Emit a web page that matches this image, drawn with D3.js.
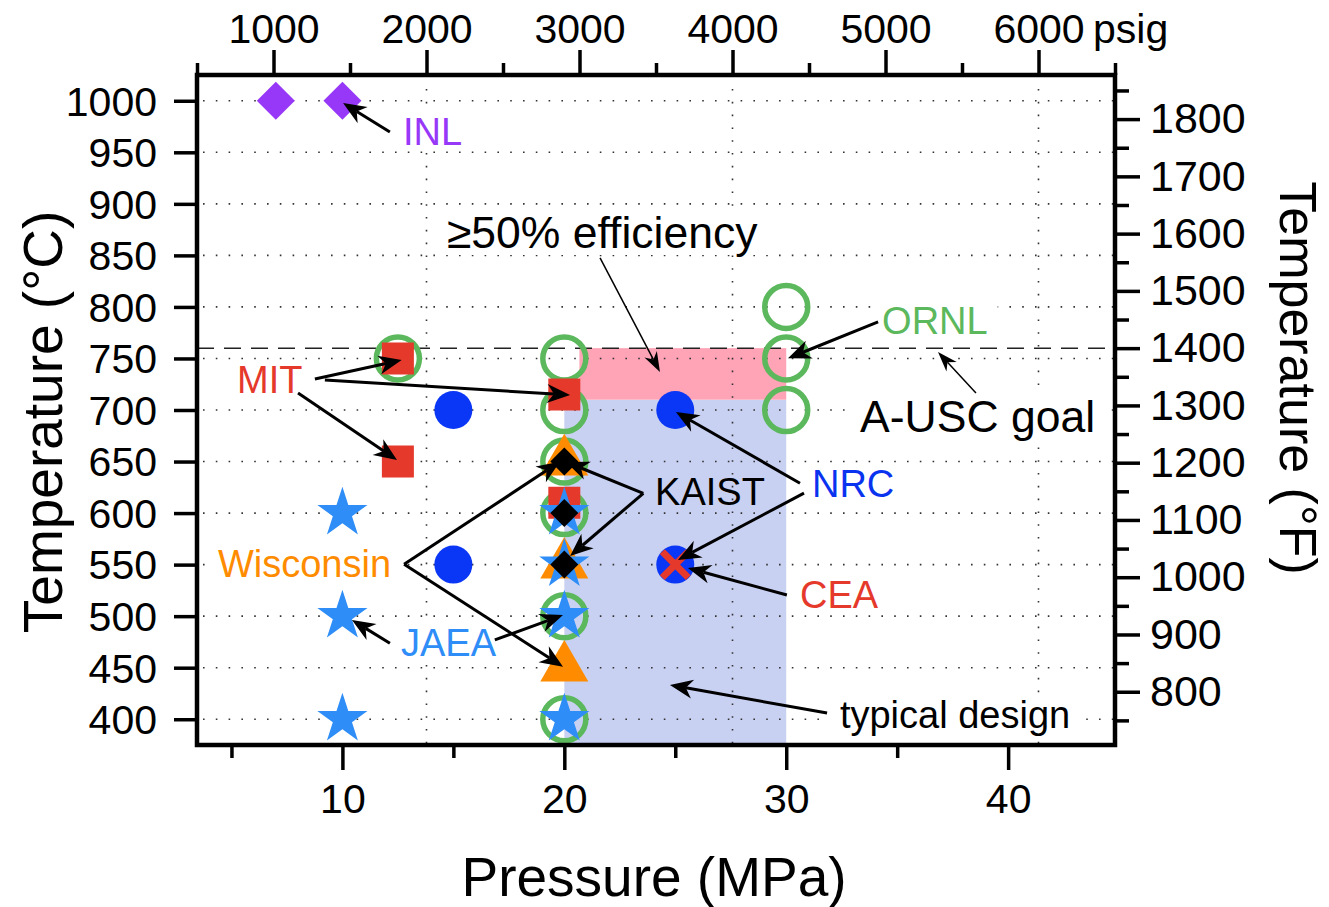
<!DOCTYPE html>
<html><head><meta charset="utf-8">
<script src="https://cdn.jsdelivr.net/npm/d3@7"></script>
<style>
body{margin:0;background:#fff}
text{font-family:"Liberation Sans",Arial,Helvetica,sans-serif}
</style>
</head><body>
<svg id="c" width="1329" height="907"></svg>
<script>
// ---------------- data ----------------
const inlP = [7, 10],                 inlT = [1000, 1000];
const mitP = [12.5, 12.5, 20, 20],    mitT = [750, 650, 715, 610];
const ornlP = [12.5, 20, 20, 20, 20, 20, 20, 30, 30, 30];
const ornlT = [750, 750, 700, 650, 600, 500, 400, 800, 750, 700];
const nrcP = [15, 15, 25, 25],        nrcT = [700, 550, 700, 550];
const ceaP = [25],                    ceaT = [550];
const wiscP = [20, 20, 20],           wiscT = [650, 550, 450];
const kaistP = [20, 20, 20],          kaistT = [650, 600, 550];
const jaeaP = [10, 10, 10, 20, 20, 20, 20];
const jaeaT = [600, 500, 400, 600, 550, 500, 400];

const effP = [20.68, 30], effT = [710, 760];      // >=50% efficiency band
const typP = [20, 30],    typT = [375, 710];      // typical design band
const goalT = 760;                                 // A-USC goal

const xTicks = [10, 20, 30, 40], xMinor = [5, 15, 25, 35];
const yTicks = [400, 450, 500, 550, 600, 650, 700, 750, 800, 850, 900, 950, 1000];
const psigTicks = [1000, 2000, 3000, 4000, 5000, 6000];
const psigMinor = [500, 1500, 2500, 3500, 4500, 5500, 6500];
const psigGrid = [2000, 4000, 6000];
const fTicks = [800, 900, 1000, 1100, 1200, 1300, 1400, 1500, 1600, 1700, 1800];
const fMinor = [750, 850, 950, 1050, 1150, 1250, 1350, 1450, 1550, 1650, 1750, 1850];

const labelText = ["INL", "≥50% efficiency", "ORNL", "A-USC goal", "MIT", "Wisconsin", "JAEA", "KAIST", "NRC", "CEA", "typical design"];
const labelP = [12.73, 14.71, 34.32, 33.33, 5.25, 4.39, 12.64, 24.09, 31.16, 30.62, 32.42];
const labelT = [957.1, 857.2, 773.7, 678.7, 716.5, 538, 461.3, 607.8, 615.6, 507.9, 391.5];
const labelColor = ["#9737F7", "#000", "#5CB85C", "#000", "#E5392B", "#FF8C00", "#2E8DF7", "#000", "#0A33F0", "#E5392B", "#000"];
const labelSize = [38, 44.5, 38, 44.5, 38, 38, 38, 38, 38, 38, 38];
const labelBg = [true, true, true, true, true, true, true, false, true, true, true];

// arrows: tail (P,T) -> tip (P,T), thin flag
const arrowP1 = [12.14, 21.61, 34.14, 38.55, 8.76, 9.21, 8.0, 12.78, 12.78, 12.14, 16.87, 23.56, 23.56, 30.62, 30.8, 30.03, 31.84];
const arrowT1 = [969.7, 847.5, 785.4, 716.5, 730.1, 729.1, 716.5, 550.3, 550.3, 473.7, 476.9, 619.2, 619.2, 629, 619.3, 520.5, 406];
const arrowP2 = [10.03, 24.31, 30.08, 36.84, 12.67, 20.26, 12.46, 19.8, 19.94, 10.43, 19.94, 20.08, 20.26, 25.03, 25.12, 25.57, 24.76];
const arrowT2 = [997.8, 736.9, 750.2, 756.3, 748.5, 714.6, 651.5, 649.8, 451, 496.3, 501.1, 649.6, 558.4, 698, 554.5, 546.7, 433.2];
const arrowThin = [false, true, false, true, false, false, false, false, false, false, false, false, false, false, false, false, false];

// ---------------- scales ----------------
const PSI = 0.00689476;
const x = d3.scaleLinear().domain([500 * PSI, 6500 * PSI]).range([197, 1115]);
const xPsig = d3.scaleLinear().domain([500, 6500]).range([197, 1115]);
const y = d3.scaleLinear().domain([375, 1025]).range([745, 75]);
const yF = d3.scaleLinear().domain([375 * 1.8 + 32, 1025 * 1.8 + 32]).range([745, 75]);

const svg = d3.select("#c");
const L = 197, R = 1115, T = 75, B = 745;

// ---------------- shaded regions ----------------
svg.append("rect").attr("x", x(typP[0])).attr("width", x(typP[1]) - x(typP[0]))
  .attr("y", y(typT[1])).attr("height", y(typT[0]) - y(typT[1])).attr("fill", "#C9D1F2");
svg.append("rect").attr("x", x(effP[0])).attr("width", x(effP[1]) - x(effP[0]))
  .attr("y", y(effT[1])).attr("height", y(effT[0]) - y(effT[1])).attr("fill", "#FFA3B6");

// ---------------- grid ----------------
const grid = svg.append("g").attr("stroke", "#333").attr("stroke-width", 1.6)
  .attr("stroke-dasharray", "1.6,11.2").attr("stroke-linecap", "butt");
yTicks.forEach(t => grid.append("line").attr("x1", L + 6).attr("x2", R).attr("y1", y(t)).attr("y2", y(t)));
psigGrid.forEach(p => grid.append("line").attr("x1", xPsig(p)).attr("x2", xPsig(p)).attr("y1", T + 14).attr("y2", B));

// dashed goal line
svg.append("line").attr("x1", L).attr("x2", R).attr("y1", y(goalT)).attr("y2", y(goalT))
  .attr("stroke", "#222").attr("stroke-width", 1.5).attr("stroke-dasharray", "17,10");

// ---------------- label backgrounds & labels ----------------
const labG = svg.append("g");
labelText.forEach((s, i) => {
  const g = labG.append("g");
  const t = g.append("text").attr("x", x(labelP[i])).attr("y", y(labelT[i]))
    .attr("font-size", labelSize[i]).attr("fill", labelColor[i]).text(s);
  if (labelBg[i]) {
    const b = t.node().getBBox();
    g.insert("rect", "text").attr("x", b.x - 10).attr("y", b.y + 2)
      .attr("width", b.width + 20).attr("height", b.height - 4).attr("fill", "#fff");
  }
});

// ---------------- markers ----------------
const sym = (type, size) => d3.symbol().type(type).size(size)();
const mk = svg.append("g");
function pts(P, Tv) { return P.map((p, i) => [x(p), y(Tv[i])]); }

// ORNL open circles
pts(ornlP, ornlT).forEach(([cx, cy]) => mk.append("circle").attr("cx", cx).attr("cy", cy).attr("r", 21.5)
  .attr("fill", "none").attr("stroke", "#5CB85C").attr("stroke-width", 5.5));
// MIT squares
pts(mitP, mitT).forEach(([cx, cy]) => mk.append("path").attr("d", sym(d3.symbolSquare, 32 * 32))
  .attr("transform", `translate(${cx},${cy})`).attr("fill", "#E5392B"));
// NRC circles
pts(nrcP, nrcT).forEach(([cx, cy]) => mk.append("circle").attr("cx", cx).attr("cy", cy).attr("r", 19).attr("fill", "#0A36F5"));
// CEA crosses
pts(ceaP, ceaT).forEach(([cx, cy]) => {
  const h = 13;
  mk.append("path").attr("d", `M${cx - h},${cy - h}L${cx + h},${cy + h}M${cx - h},${cy + h}L${cx + h},${cy - h}`)
    .attr("stroke", "#E5392B").attr("stroke-width", 7);
});
// Wisconsin triangles
pts(wiscP, wiscT).forEach(([cx, cy]) => mk.append("path").attr("d", sym(d3.symbolTriangle, 998))
  .attr("transform", `translate(${cx},${cy})`).attr("fill", "#FF8C00"));
// JAEA stars
pts(jaeaP, jaeaT).forEach(([cx, cy]) => mk.append("path").attr("d", sym(d3.symbolStar, 780))
  .attr("transform", `translate(${cx},${cy})`).attr("fill", "#2E8DF7"));
// KAIST diamonds
pts(kaistP, kaistT).forEach(([cx, cy]) => mk.append("path").attr("d", sym(d3.symbolSquare, 392))
  .attr("transform", `translate(${cx},${cy}) rotate(45)`).attr("fill", "#000"));
// INL diamonds
pts(inlP, inlT).forEach(([cx, cy]) => mk.append("path").attr("d", sym(d3.symbolSquare, 722))
  .attr("transform", `translate(${cx},${cy}) rotate(45)`).attr("fill", "#9737F7"));

// ---------------- arrows ----------------
const ar = svg.append("g");
arrowP1.forEach((p, i) => {
  const x1 = x(p), y1 = y(arrowT1[i]), x2 = x(arrowP2[i]), y2 = y(arrowT2[i]);
  const thin = arrowThin[i];
  const Lh = thin ? 20 : 23, W = thin ? 7 : 9.5, sw = thin ? 1.5 : 3;
  const dx = x2 - x1, dy = y2 - y1, len = Math.hypot(dx, dy);
  const ux = dx / len, uy = dy / len, nx = -uy, ny = ux;
  const bx = x2 - ux * Lh, by = y2 - uy * Lh;
  const kx = x2 - ux * Lh * 0.7, ky = y2 - uy * Lh * 0.7;
  ar.append("line").attr("x1", x1).attr("y1", y1).attr("x2", kx).attr("y2", ky)
    .attr("stroke", "#000").attr("stroke-width", sw);
  ar.append("path").attr("d", `M${x2},${y2}L${bx + nx * W},${by + ny * W}L${kx},${ky}L${bx - nx * W},${by - ny * W}Z`)
    .attr("fill", "#000");
});

// ---------------- axes ----------------
function styleAxis(g, fs) {
  g.select(".domain").remove();
  g.selectAll(".tick line").attr("stroke", "#000").attr("stroke-width", 3.5);
  g.selectAll(".tick text").attr("fill", "#000").attr("font-size", fs)
    .attr("font-family", '"Liberation Sans",Arial,Helvetica,sans-serif');
}
// left
const gl = svg.append("g").attr("transform", `translate(${L},0)`)
  .call(d3.axisLeft(y).tickValues(yTicks).tickSize(23).tickPadding(17).tickFormat(d3.format("d")));
styleAxis(gl, 41);
gl.selectAll(".tick text").attr("dy", "0.35em");
// bottom
const gb = svg.append("g").attr("transform", `translate(0,${B})`)
  .call(d3.axisBottom(x).tickValues(xTicks).tickSize(25).tickPadding(14).tickFormat(d3.format("d")));
styleAxis(gb, 41);
const gb2 = svg.append("g").attr("transform", `translate(0,${B})`)
  .call(d3.axisBottom(x).tickValues(xMinor).tickSize(13).tickFormat(""));
styleAxis(gb2, 41);
// top
const gt = svg.append("g").attr("transform", `translate(0,${T})`)
  .call(d3.axisTop(xPsig).tickValues(psigTicks).tickSize(25).tickPadding(7).tickFormat(d3.format("d")));
styleAxis(gt, 41);
const gt2 = svg.append("g").attr("transform", `translate(0,${T})`)
  .call(d3.axisTop(xPsig).tickValues(psigMinor).tickSize(12).tickFormat(""));
styleAxis(gt2, 41);
// right
const gr = svg.append("g").attr("transform", `translate(${R},0)`)
  .call(d3.axisRight(yF).tickValues(fTicks).tickSize(25).tickPadding(10).tickFormat(d3.format("d")));
styleAxis(gr, 43);
const gr2 = svg.append("g").attr("transform", `translate(${R},0)`)
  .call(d3.axisRight(yF).tickValues(fMinor).tickSize(14).tickFormat(""));
styleAxis(gr2, 43);

// frame
svg.append("rect").attr("x", L).attr("y", T).attr("width", R - L).attr("height", B - T)
  .attr("fill", "none").attr("stroke", "#000").attr("stroke-width", 4.5);

// titles
svg.append("text").attr("x", 1093).attr("y", 43).attr("font-size", 41).text("psig");
svg.append("text").attr("x", 654).attr("y", 896).attr("text-anchor", "middle").attr("font-size", 55).text("Pressure (MPa)");
svg.append("text").attr("transform", "translate(62,422) rotate(-90)").attr("text-anchor", "middle")
  .attr("font-size", 55).text("Temperature (°C)");
svg.append("text").attr("transform", "translate(1280,378) rotate(90)").attr("text-anchor", "middle")
  .attr("font-size", 52).text("Temperature (°F)");
</script>
</body></html>
